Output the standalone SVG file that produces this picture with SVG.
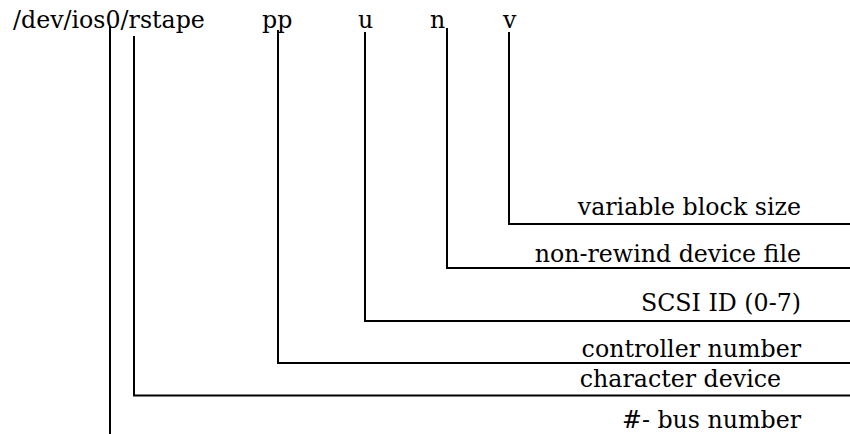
<svg xmlns="http://www.w3.org/2000/svg" width="850" height="434" viewBox="0 0 850 434">
<style>
text{font-family:"DejaVu Serif","Liberation Serif",serif;font-size:23.7px;fill:#000}
.r{text-anchor:end}
.ln{fill:none;stroke:#000;stroke-width:2}
</style>
<rect width="850" height="434" fill="#fff"/>
<g id="device">
<text x="13" y="28">/dev/ios0/rstape</text>
<text x="262" y="28">pp</text>
<text x="358" y="28">u</text>
<text x="430" y="28">n</text>
<text x="503" y="28">v</text>
</g>
<g id="labels">
<text class="r" x="801" y="215">variable block size</text>
<text class="r" x="801" y="262">non-rewind device file</text>
<text class="r" x="801" y="311">SCSI ID (0-7)</text>
<text class="r" x="801" y="357">controller number</text>
<text class="r" x="781" y="387">character device</text>
<text class="r" x="801" y="428">#- bus number</text>
</g>
<g id="connectors">
<path class="ln" d="M110 26V434"/>
<path class="ln" d="M134 36V395.5H850"/>
<path class="ln" d="M278 30V363H850"/>
<path class="ln" d="M365 32V321H850"/>
<path class="ln" d="M447 28V268H850"/>
<path class="ln" d="M509 32V224H850"/>
</g>
</svg>
